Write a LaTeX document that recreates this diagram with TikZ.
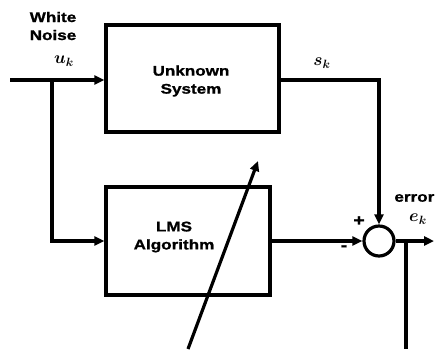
\documentclass[tikz,border=0pt]{standalone}
\usepackage{fontspec}
\setmainfont{Liberation Sans}
\newfontfamily\labelfont[FakeStretch=1.22,FakeBold=1.2]{Liberation Sans Bold}
\usetikzlibrary{arrows.meta}
\begin{document}
\begin{tikzpicture}[x=1pt,y=-1pt,
  wire/.style={line width=3.2pt},
  arr/.style={wire,-{Triangle[length=10pt,width=9pt]}},
  blockbox/.style={draw,line width=3.2pt,rectangle,inner sep=0pt},
  lbl/.style={font=\labelfont\fontsize{14}{18}\selectfont,align=center,inner sep=0pt},
  sgn/.style={font=\labelfont\fontsize{16}{16}\selectfont,inner sep=0pt},
  sym/.style={font=\fontsize{18}{18}\selectfont\boldmath,inner sep=0pt}]
\useasboundingbox (0,0) rectangle (435,349);
% blocks
\node[blockbox,minimum width=173pt,minimum height=107pt] (plant) at (192.5,78.5) {};
\node[blockbox,minimum width=164pt,minimum height=108pt] (lms) at (188,241) {};
\node[draw,circle,line width=3.2pt,minimum size=30pt,inner sep=0pt] (sum) at (379,241) {};
% labels
\node[lbl] (wn) at (53,26) {White\\Noise};
\node[sym] (u) at (64,61) {$u_k$};
\node[lbl] (ptxt) at (191,81) {Unknown\\System};
\node[lbl] (ltxt) at (174,237) {LMS\\Algorithm};
\node[sym] (s) at (322,63) {$s_k$};
\node[lbl,anchor=east] (err) at (434.5,198) {error};
\node[sym] (e) at (418,219) {$e_k$};
\node[sgn] (plus) at (359,221) {+};
\node[sgn] (minus) at (344,248) {-};
% connectors
\coordinate (in) at (10,80);
\coordinate (br) at (52,80);
\coordinate (eout) at (434,241);
\coordinate (tap) at (406,241);
\coordinate (tapend) at (406,349);
\coordinate (adj0) at (188,349);
\coordinate (adj1) at (258,161);
\draw[arr] (in) -- (plant.west |- in);
\draw[arr] (br) |- (lms.west);
\draw[arr] (plant.east |- 0,80) -| (sum.north);
\draw[arr] (lms.east) -- (sum.west);
\draw[arr] (sum.east) -- (eout);
\draw[wire] (tap) -- (tapend);
\draw[arr] (adj0) -- (adj1);
\end{tikzpicture}
\end{document}
